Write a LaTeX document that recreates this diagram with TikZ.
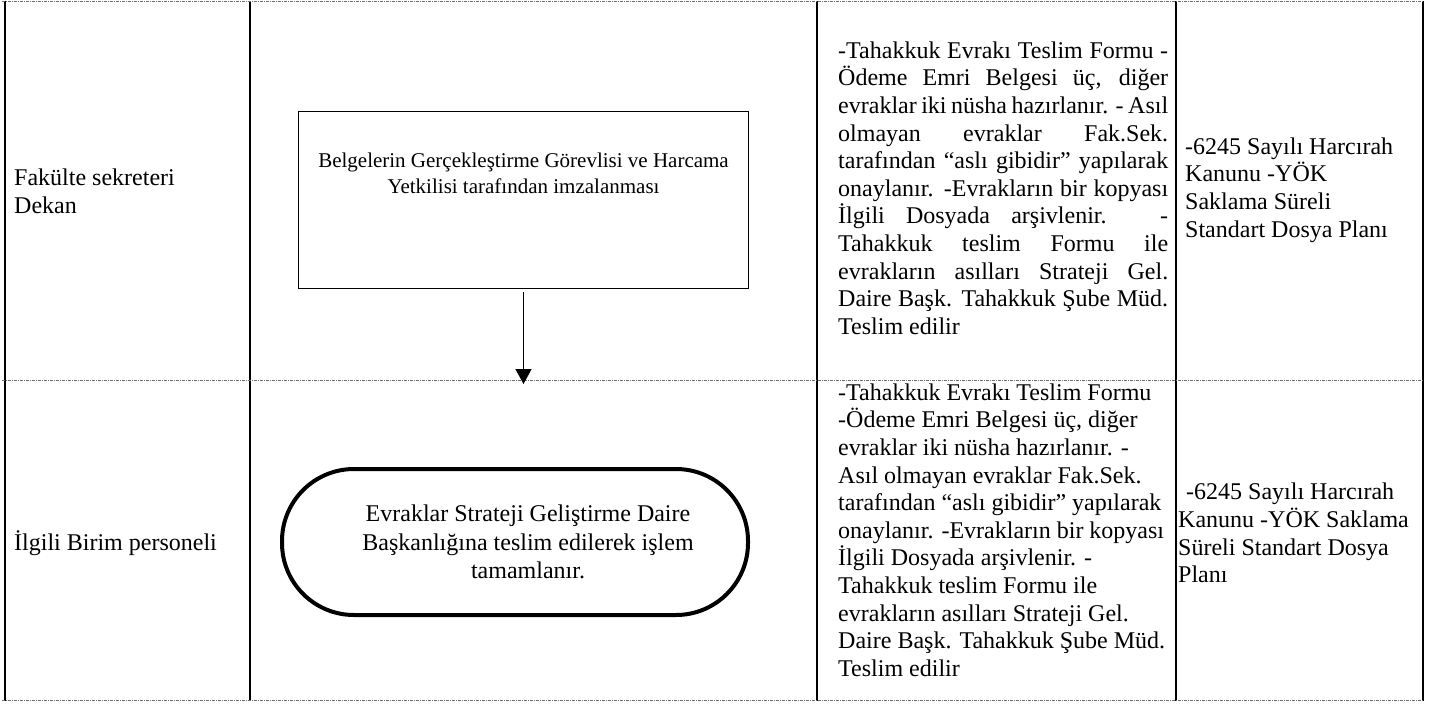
\documentclass[tikz,border=0pt]{standalone}
\usepackage{fontspec}
\setmainfont{Liberation Serif}
\usepackage{tikz}
\usetikzlibrary{arrows.meta}
\definecolor{mygray}{RGB}{110,110,110}
\newcommand{\jline}[1]{\hbox to 330pt{#1}}
\hbadness=10000

\begin{document}
\begin{tikzpicture}[x=1pt,y=-1pt]
	\useasboundingbox (0,0) rectangle (1442,706);

	% lanes
	\begin{scope}[line width=2pt]
	    \foreach \x in {5,250,817,1176,1423} \draw (\x,1) -- (\x,701);
	\end{scope}
	\begin{scope}[draw=mygray, line width=0.9pt, dash pattern=on 3pt off 1pt on 1pt off 1pt]
	    \foreach \y in {1.5,380,700.5} \draw (2,\y) -- (1423,\y);
	\end{scope}

	\begin{scope}[every node/.style={inner sep=0pt, anchor=west, align=left,
	              font=\fontsize{24}{27.6}\selectfont}]
	    \node (R1) at (14,191) {Fakülte sekreteri\\Dekan};
	    \node (R2) at (14,543) {İlgili Birim personeli};
	    \node (D1) at (838,188) {\jline{-Tahakkuk Evrakı Teslim Formu -}\\
	        \jline{Ödeme Emri Belgesi üç, diğer}\\
	        \jline{evraklar iki nüsha hazırlanır. - Asıl}\\
	        \jline{olmayan evraklar Fak.Sek.}\\
	        \jline{tarafından “aslı gibidir” yapılarak}\\
	        \jline{onaylanır. -Evrakların bir kopyası}\\
	        \jline{İlgili Dosyada arşivlenir. -}\\
	        \jline{Tahakkuk teslim Formu ile}\\
	        \jline{evrakların asılları Strateji Gel.}\\
	        \jline{Daire Başk. Tahakkuk Şube Müd.}\\
	        Teslim edilir};
	    \node (D2) at (838,530) {-Tahakkuk Evrakı Teslim Formu\\
	        -Ödeme Emri Belgesi üç, diğer\\
	        evraklar iki nüsha hazırlanır. -\\
	        Asıl olmayan evraklar Fak.Sek.\\
	        tarafından “aslı gibidir” yapılarak\\
	        onaylanır. -Evrakların bir kopyası\\
	        İlgili Dosyada arşivlenir. -\\
	        Tahakkuk teslim Formu ile\\
	        evrakların asılları Strateji Gel.\\
	        Daire Başk. Tahakkuk Şube Müd.\\
	        Teslim edilir};
	    \node (L1) at (1185,190) {-6245 Sayılı Harcırah\\Kanunu -YÖK\\Saklama Süreli\\Standart Dosya Planı};
	    \node (L2) at (1178,533) {\hspace{8pt}-6245 Sayılı Harcırah\\Kanunu -YÖK Saklama\\Süreli Standart Dosya\\Planı};
	\end{scope}

	% flow
	\node (sign) [draw, line width=1.2pt, minimum width=450pt, minimum height=177pt] at (523.5,200) {};
	\node (signtext) [align=center, font=\fontsize{21}{26}\selectfont] at (523.5,173)
	    {Belgelerin Gerçekleştirme Görevlisi ve Harcama\\Yetkilisi tarafından imzalanması};
	\node (done) [draw, line width=4pt, rounded corners=72pt, minimum width=466pt, minimum height=146pt] at (515,542) {};
	\node (donetext) [align=center, font=\fontsize{24}{28.3}\selectfont] at (528,542)
	    {Evraklar Strateji Geliştirme Daire\\Başkanlığına teslim edilerek işlem\\tamamlanır.};

	\coordinate (lane) at (524,384);
	\draw [line width=1.3pt, shorten <=3pt, -{Triangle[width=16pt,length=15pt]}] (sign.south) -- (sign.south |- lane);
\end{tikzpicture}
\end{document}
